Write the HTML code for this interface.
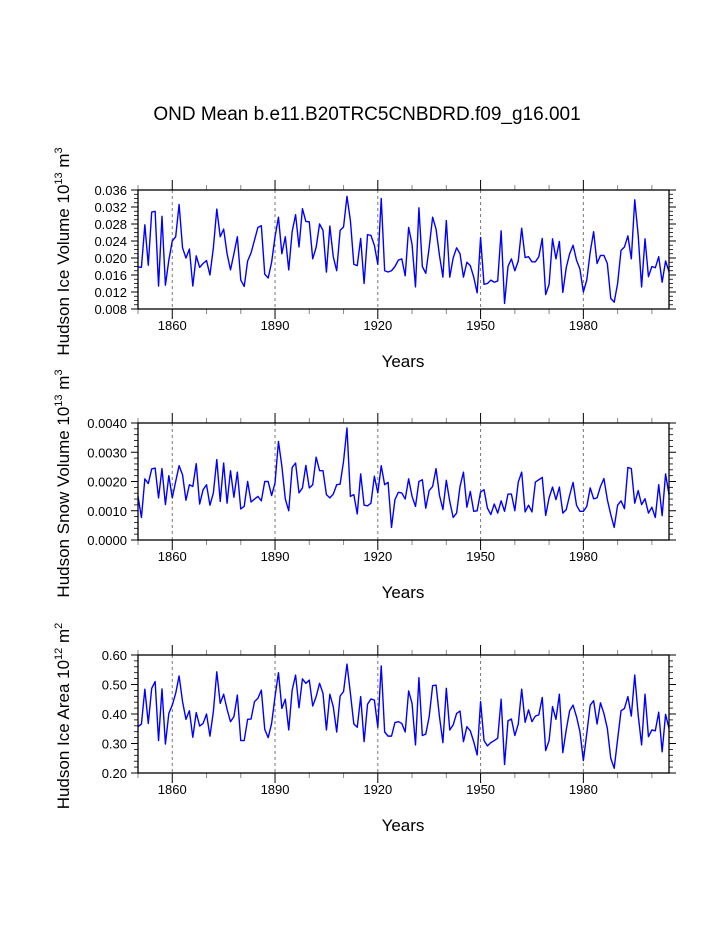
<!DOCTYPE html>
<html><head><meta charset="utf-8">
<style>
html,body{margin:0;padding:0;background:#fff;}
svg{display:block;font-family:"Liberation Sans",Arial,sans-serif;}
</style></head>
<body>
<svg id="chart" width="723" height="935" viewBox="0 0 723 935" xmlns="http://www.w3.org/2000/svg">
<rect x="0" y="0" width="723" height="935" fill="#fff"/>
<text x="367" y="120" font-size="19" text-anchor="middle">OND Mean b.e11.B20TRC5CNBDRD.f09_g16.001</text>
</svg>
<script>
const startYear = 1850;
const iceVolume = [
0.0179,0.0178,0.0278,0.0183,0.0308,0.031,0.0134,0.0298,0.0136,0.0195,
0.024,0.025,0.0326,0.0224,0.020,0.0221,0.0134,0.0205,0.0178,0.0187,
0.0194,0.016,0.0224,0.0315,0.025,0.0268,0.021,0.0172,0.021,0.025,
0.0148,0.0133,0.0193,0.0212,0.0242,0.0272,0.0276,0.0162,0.0153,0.019,
0.025,0.0296,0.021,0.025,0.0172,0.0262,0.0302,0.0226,0.0316,0.0286,
0.0285,0.0198,0.0225,0.028,0.0265,0.0167,0.0275,0.0203,0.017,0.0265,
0.0273,0.0345,0.0288,0.0185,0.0182,0.0246,0.014,0.0255,0.0253,0.023,
0.0185,0.034,0.017,0.0167,0.017,0.018,0.0195,0.0198,0.0158,0.0272,
0.0232,0.0132,0.0318,0.018,0.0164,0.0225,0.0296,0.0268,0.0206,0.0155,
0.0288,0.0155,0.02,0.0224,0.021,0.0155,0.019,0.0182,0.0155,0.0118,
0.0248,0.0138,0.014,
0.0148,0.0143,0.0146,0.0264,0.0093,0.018,0.0198,0.017,0.0193,0.027,
0.0201,0.0203,0.0191,0.0191,0.0203,0.0246,0.0114,0.0138,0.0245,0.0198,
0.0239,0.0119,0.0177,0.021,0.023,0.0195,0.0174,0.012,0.0148,0.0214,
0.0262,0.0187,0.0206,0.0206,0.0187,0.0105,0.0096,0.014,0.0218,0.0226,
0.0252,0.0198,0.0337,0.0254,0.0132,0.0245,0.0156,0.018,0.0177,0.0203,
0.0143,0.0193,0.0168];
const snowVolume = [
0.00149,0.00077,0.00209,0.00193,0.00243,0.00246,0.00144,0.00244,0.00121,0.0022,
0.00144,0.002,0.00254,0.00223,0.00136,0.00189,0.00183,0.00261,0.00123,0.00172,
0.00189,0.00119,0.00161,0.00275,0.00132,0.00263,0.00126,0.00237,0.00146,0.00232,
0.00106,0.00115,0.002,0.0013,0.0014,0.00149,0.00134,0.002,0.002,0.00152,
0.00195,0.00337,0.00252,0.0014,0.001,0.00248,0.00263,0.00161,0.00178,0.00255,
0.00178,0.00189,0.00283,0.00237,0.00237,0.00155,0.00144,0.00157,0.00189,0.00191,
0.00269,0.00383,0.00149,0.00155,0.00089,0.00226,0.00119,0.00117,0.00126,0.00218,
0.00161,0.00254,0.00189,0.00197,0.00043,0.00138,0.00163,0.00161,0.0014,0.00209,
0.00149,0.00115,0.002,0.00206,0.00109,0.00169,0.00183,0.00244,0.00153,0.00104,
0.00204,0.00132,0.00077,0.00092,0.00183,0.00232,0.00112,0.00166,0.00098,0.001,
0.00164,0.00172,0.00109,
0.00087,0.00123,0.00092,0.00134,0.00098,0.00157,0.00157,0.001,0.00198,0.00232,
0.00096,0.00119,0.00096,0.00198,0.00206,0.00214,0.00084,0.00144,0.00181,0.00138,
0.00181,0.00092,0.00104,0.00153,0.00197,0.00119,0.00098,0.00098,0.00115,0.00178,
0.00141,0.00144,0.00183,0.0021,0.00138,0.00087,0.00043,0.00119,0.00134,0.00107,
0.00248,0.00244,0.00126,0.00169,0.00121,0.00141,0.00092,0.00112,0.00077,0.00189,
0.00083,0.00226,0.00155];
const iceArea = [
0.357,0.366,0.484,0.368,0.487,0.51,0.31,0.485,0.298,0.402,
0.43,0.47,0.529,0.442,0.382,0.411,0.321,0.405,0.359,0.368,
0.4,0.325,0.408,0.543,0.436,0.467,0.416,0.374,0.391,0.464,
0.31,0.31,0.382,0.383,0.442,0.453,0.481,0.348,0.32,0.368,
0.459,0.54,0.419,0.45,0.346,0.481,0.532,0.421,0.519,0.504,
0.515,0.427,0.459,0.504,0.47,0.346,0.467,0.425,0.339,0.461,
0.476,0.569,0.47,0.366,0.355,0.459,0.306,0.433,0.451,0.447,
0.355,0.563,0.339,0.325,0.325,0.371,0.374,0.368,0.339,0.478,
0.436,0.295,0.523,0.327,0.332,0.391,0.496,0.498,0.391,0.303,
0.487,0.346,0.363,0.402,0.41,0.306,0.357,0.343,0.306,0.261,
0.442,0.31,0.292,
0.303,0.31,0.318,0.45,0.229,0.377,0.383,0.327,0.366,0.484,
0.372,0.414,0.374,0.393,0.397,0.456,0.276,0.31,0.425,0.382,
0.467,0.269,0.346,0.411,0.43,0.391,0.34,0.242,0.334,0.43,
0.445,0.366,0.438,0.402,0.351,0.25,0.216,0.314,0.411,0.419,
0.459,0.393,0.532,0.397,0.295,0.467,0.323,0.346,0.343,0.406,
0.272,0.399,0.351];
const xTickYears = [1850,1860,1870,1880,1890,1900,1910,1920,1930,1940,1950,1960,1970,1980,1990,2000];
const xLabelYears = [1860,1890,1920,1950,1980];
const iceVolumeTicks = [0.008,0.012,0.016,0.020,0.024,0.028,0.032,0.036];
const snowVolumeTicks = [0.0,0.001,0.002,0.003,0.004];
const iceAreaTicks = [0.2,0.3,0.4,0.5,0.6];

const NS = "http://www.w3.org/2000/svg";
const svg = document.getElementById('chart');
const X0 = 138, X1 = 669, YMIN = 1850, YMAX = 2005;
function xScale(yr){ return X0 + (yr - YMIN) / (YMAX - YMIN) * (X1 - X0); }
function mk(tag, attrs, parent){
  const e = document.createElementNS(NS, tag);
  for (const k in attrs) e.setAttribute(k, attrs[k]);
  (parent || svg).appendChild(e);
  return e;
}

const panels = [
 {key:'ice-volume', data:iceVolume, ticks:iceVolumeTicks, top:190, bottom:309, dec:3, minor:4,
  title:['Hudson Ice Volume 10','13',' m','3']},
 {key:'snow-volume', data:snowVolume, ticks:snowVolumeTicks, top:423, bottom:540, dec:4, minor:5,
  title:['Hudson Snow Volume 10','13',' m','3']},
 {key:'ice-area', data:iceArea, ticks:iceAreaTicks, top:655, bottom:773, dec:2, minor:5,
  title:['Hudson Ice Area 10','12',' m','2']}
];

panels.forEach(p => {
  const vmin = p.ticks[0], vmax = p.ticks[p.ticks.length-1];
  const yScale = v => p.bottom - (v - vmin) / (vmax - vmin) * (p.bottom - p.top);
  const g = mk('g', {});
  
  

  xLabelYears.forEach(yr => {
    const l = mk('line', {x1:xScale(yr), x2:xScale(yr), y1:p.top, y2:p.bottom, stroke:'#777', 'stroke-width':1, 'stroke-dasharray':'3,3'}, g);
    
    
  });

  xTickYears.forEach(yr => {
    const x = xScale(yr);
    const major = xLabelYears.indexOf(yr) >= 0;
    const len = major ? 10 : 5;
    const col = major ? '#000' : '#888';
    mk('line', {x1:x, x2:x, y1:p.bottom, y2:p.bottom+len, stroke:col, 'stroke-width':1}, g);
    mk('line', {x1:x, x2:x, y1:p.top, y2:p.top-len, stroke:col, 'stroke-width':1}, g);
  });
  xLabelYears.forEach(yr => {
    const t = mk('text', {x:xScale(yr), y:p.bottom+21, 'font-size':13, 'text-anchor':'middle'}, g);
    t.textContent = yr;
    
    
  });
  const xt = mk('text', {x:403, y:p.bottom+58, 'font-size':17, 'text-anchor':'middle'}, g);
  xt.textContent = 'Years';
  
  

  for (let i = 0; i < p.ticks.length; i++){
    const v = p.ticks[i], y = yScale(v);
    mk('line', {x1:X0-7, x2:X0, y1:y, y2:y, stroke:'#000', 'stroke-width':1}, g);
    mk('line', {x1:X1, x2:X1+7, y1:y, y2:y, stroke:'#000', 'stroke-width':1}, g);
    const t = mk('text', {x:X0-11, y:y+5, 'font-size':13, 'text-anchor':'end'}, g);
    t.textContent = v.toFixed(p.dec);
    
    
    if (i < p.ticks.length-1){
      const step = (p.ticks[i+1]-v)/p.minor;
      for (let k = 1; k < p.minor; k++){
        const ym = yScale(v + k*step);
        mk('line', {x1:X0-4, x2:X0, y1:ym, y2:ym, stroke:'#000', 'stroke-width':0.8}, g);
        mk('line', {x1:X1, x2:X1+4, y1:ym, y2:ym, stroke:'#000', 'stroke-width':0.8}, g);
      }
    }
  }

  const cy = (p.top + p.bottom)/2 + 2;
  const yt = mk('text', {x:0, y:0, 'font-size':17, 'text-anchor':'middle', transform:'translate(69,'+cy+') rotate(-90)'}, g);
  
  
  const s1 = mk('tspan', {}, yt); s1.textContent = p.title[0];
  const s2 = mk('tspan', {'font-size':11, dy:-7}, yt); s2.textContent = p.title[1];
  const s3 = mk('tspan', {dy:7}, yt); s3.textContent = p.title[2];
  const s4 = mk('tspan', {'font-size':11, dy:-7}, yt); s4.textContent = p.title[3];

  const pts = p.data.map((v,i) => xScale(startYear+i).toFixed(2) + ',' + yScale(v).toFixed(2)).join(' ');
  const pl = mk('polyline', {points:pts, fill:'none', stroke:'#0000ff', 'stroke-width':1.4, 'stroke-linejoin':'round'}, g);
  
  

  const fr = mk('rect', {x:X0, y:p.top, width:X1-X0, height:p.bottom-p.top, fill:'none', stroke:'#000', 'stroke-width':1.3}, g);
  
  
});
</script>
</body></html>
